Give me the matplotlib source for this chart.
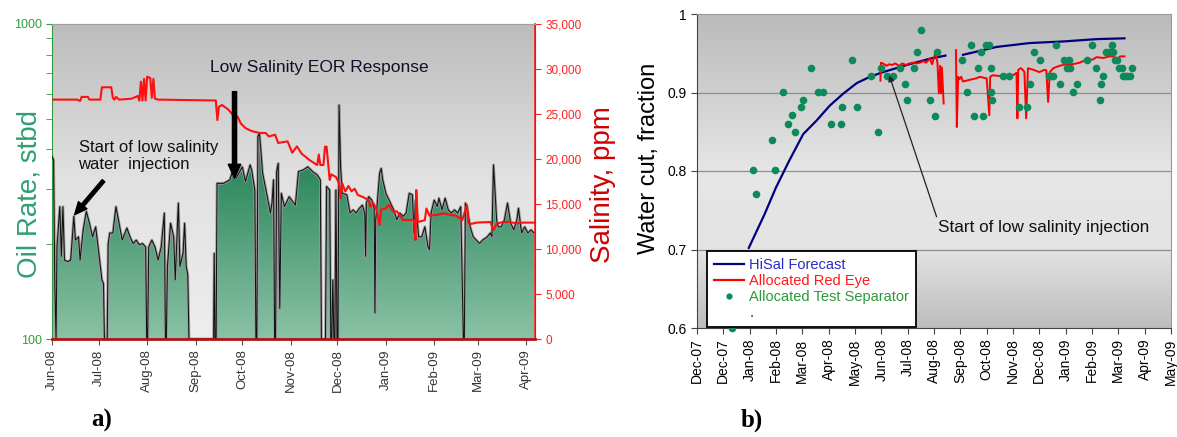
import numpy as np
import pandas as pd
import matplotlib
matplotlib.use('Agg')
import matplotlib.pyplot as plt
from matplotlib.colors import LinearSegmentedColormap
from matplotlib.lines import Line2D
from matplotlib.ticker import NullFormatter

plt.rcParams['font.family'] = ['Liberation Sans', 'DejaVu Sans']

# ---------------- panel a) : days since 1-Jun-2008 ----------------
oil_day = [0, 1, 1.8, 2.6, 3.2, 5, 6, 7, 8, 10, 12, 14, 15, 17, 18, 20, 22, 24, 26, 28,
           30, 32, 33, 33.6, 35.4, 36, 37, 39, 41, 43, 45, 48, 50, 52, 54, 56, 58, 60, 60.7, 61.3,
           62, 64, 66, 68, 70, 72, 72.7, 73.3, 74, 76, 78, 79, 81, 82, 84, 85, 86, 87, 87.8, 103.6,
           104, 104.5, 105.2, 105.8, 106.3, 110, 114, 116, 118, 122, 124, 127, 128, 130, 130.7, 131.3, 132, 133, 135, 138,
           140, 141, 142, 142.7, 143.3, 144, 145, 146, 147, 149, 152, 156, 158, 161, 164, 167, 170, 172, 172.7, 175.3,
           176, 178, 178.7, 179.3, 180, 180.7, 181.3, 182, 182.7, 183.3, 184, 185, 186, 189, 191, 193, 195, 197, 199, 200.5,
           201, 201.5, 203, 205, 206.5, 207, 207.5, 208, 210, 211, 212, 214, 217, 219, 221, 223, 225, 227, 229, 231,
           232, 233, 235, 237, 239, 241, 242, 243, 245, 247, 248, 250, 252, 254, 256, 258, 260, 262, 263.7, 264.3,
           265, 266, 268, 270, 272, 274, 276, 279, 281, 282, 283, 285, 286, 288, 290, 292, 294, 296, 298, 299,
           301, 303, 305, 307, 309]
oil_rate = [380, 370, 150, 100, 196, 263, 183, 263, 178, 176, 178, 245, 206, 211, 178, 222, 254, 233, 211, 227,
            187, 154, 150, 100, 100, 200, 217, 217, 263, 233, 206, 225, 211, 201, 206, 199, 201, 196, 100, 100,
            196, 206, 196, 178, 196, 251, 100, 100, 170, 233, 211, 154, 270, 170, 187, 233, 170, 160, 100, 100,
            187, 100, 100, 312, 312, 312, 320, 344, 324, 352, 316, 357, 344, 297, 100, 100, 440, 450, 336, 283,
            251, 270, 320, 100, 100, 340, 361, 125, 290, 263, 283, 266, 340, 344, 352, 340, 332, 320, 100, 100,
            305, 297, 100, 100, 154, 100, 100, 297, 100, 100, 553, 352, 290, 287, 251, 257, 251, 260, 266, 250,
            183, 270, 283, 276, 260, 121, 240, 251, 336, 348, 320, 290, 270, 257, 239, 251, 245, 251, 290, 287,
            217, 276, 211, 211, 227, 196, 192, 251, 276, 263, 280, 257, 280, 257, 251, 257, 251, 263, 100, 100,
            270, 263, 227, 211, 206, 201, 206, 211, 217, 211, 357, 239, 227, 227, 239, 270, 233, 222, 239, 260,
            217, 227, 217, 222, 217]

sal_day = [0, 16, 18, 19, 23, 24, 31, 32, 38, 39, 40, 41, 43, 51, 55, 56, 57, 58, 59, 60,
           61, 63, 64, 65, 66, 68, 105, 106, 107, 109, 113, 116, 119, 121, 124, 128, 133, 137, 139, 143,
           145, 151, 154, 157, 160, 165, 170, 171, 172, 174, 175, 176, 178, 179, 182, 184, 185, 186, 188, 190,
           192, 194, 196, 199, 203, 204, 206, 208, 210, 211, 214, 216, 219, 221, 223, 225, 232, 233, 233.5, 234.5,
           237, 239, 240, 242, 247, 251, 255, 259, 263, 266, 267, 269, 272, 281, 283, 285, 289, 293, 298, 302, 309]
sal_ppm = [26600, 26600, 26450, 26900, 26900, 26600, 26600, 27970, 27970, 26800, 26600, 26900, 26600, 26700, 27000, 26500, 28590, 26500, 28900, 26500,
           29140, 29000, 26800, 28900, 26700, 26600, 26500, 24330, 25800, 26000, 25500, 24890, 24700, 23950, 23440, 23100, 22890, 22890, 22500, 22700,
           21780, 21960, 20700, 21400, 20600, 19890, 19330, 20500, 19330, 19330, 21370, 21370, 17670, 18300, 18000, 17300, 15630, 17300, 16400, 17000,
           16400, 16700, 16000, 15800, 15440, 14700, 15100, 14400, 12670, 14400, 14500, 14900, 14100, 14200, 13700, 13220, 13220, 11000, 16550, 13000,
           13100, 13220, 14500, 13700, 13800, 13960, 13800, 13700, 13220, 14890, 12850, 12800, 12930, 13000, 12110, 12800, 13000, 13000, 12850, 12930, 12930]

left_ticks = ['Jun-08', 'Jul-08', 'Aug-08', 'Sep-08', 'Oct-08', 'Nov-08', 'Dec-08',
              'Jan-09', 'Feb-09', 'Mar-09', 'Apr-09']
sal_ticks = [0, 5000, 10000, 15000, 20000, 25000, 30000, 35000]

# ---------------- panel b) : days since 1-Dec-2007 ----------------
fc_day = [59, 77, 90, 105, 121, 136, 151, 166, 182, 197, 212, 227, 242, 265, 283, np.nan,
          303, 341, 379, 417, 455, 487]
fc_wc = [0.702, 0.745, 0.779, 0.813, 0.847, 0.864, 0.883, 0.898, 0.912, 0.920, 0.926, 0.931,
         0.936, 0.943, 0.947, np.nan, 0.948, 0.958, 0.963, 0.965, 0.968, 0.969]

re_day = [209, 209.5, 212, 216, 219, 222, 226, 230, 234, 238, 242, 246, 250, 254, 258, 261, 265, 268, 270, 272,
          274, 275.5, 277, 278, 279, 281, np.nan,
          295, 296, 297.5, 299, 301, 303, 310, 318, 322, 330, 333, 334, 337, 345, 352, 360, 364, 365, 366, 369,
          371, 373, 375, 377, 383, 390, 396, 398, 400, 402, 406, 413, 421, 428, 436, 444, 451, 455, 463, 470,
          474, 477, 479, 482, 487]
re_wc = [0.915, 0.938, 0.937, 0.934, 0.936, 0.935, 0.937, 0.934, 0.937, 0.935, 0.937, 0.938, 0.937, 0.938, 0.940, 0.938, 0.943, 0.936, 0.945, 0.950,
         0.937, 0.899, 0.934, 0.899, 0.932, 0.886, np.nan,
         0.954, 0.856, 0.920, 0.917, 0.920, 0.914, 0.916, 0.918, 0.920, 0.918, 0.871, 0.920, 0.922, 0.921, 0.920, 0.922, 0.925, 0.867, 0.929, 0.931,
         0.929, 0.926, 0.867, 0.931, 0.929, 0.926, 0.929, 0.928, 0.888, 0.926, 0.931, 0.934, 0.936, 0.936, 0.938, 0.942, 0.942, 0.945, 0.944, 0.946,
         0.946, 0.944, 0.942, 0.946, 0.946]

ts_day = [40, 64, 67, 89, 86, 98, 104, 108, 112, 119, 121, 130, 138, 143, 153, 164, 165, 177, 182, 198,
          206, 210, 217, 223, 231, 237, 239, 247, 251, 255, 266, 271, 273, 302, 308, 312, 315, 320, 324, 326,
          329, 333, 335, 335, 336, 349, 355, 367, 376, 379, 384, 391, 401, 404, 406, 409, 414, 418, 421, 424,
          425, 428, 433, 444, 450, 454, 459, 460, 462, 466, 469, 473, 474, 476, 478, 481, 484, 485, 488, 490,
          493, 496]
ts_wc = [0.600, 0.801, 0.771, 0.801, 0.840, 0.901, 0.860, 0.871, 0.850, 0.881, 0.891, 0.931, 0.901, 0.901, 0.860, 0.860, 0.881, 0.941, 0.881, 0.921,
         0.850, 0.931, 0.921, 0.921, 0.931, 0.911, 0.891, 0.931, 0.951, 0.980, 0.891, 0.870, 0.951, 0.941, 0.901, 0.961, 0.870, 0.931, 0.951, 0.870,
         0.961, 0.961, 0.901, 0.931, 0.890, 0.921, 0.921, 0.881, 0.881, 0.911, 0.951, 0.941, 0.921, 0.921, 0.921, 0.961, 0.911, 0.941, 0.931, 0.941,
         0.931, 0.901, 0.911, 0.941, 0.961, 0.931, 0.890, 0.911, 0.921, 0.951, 0.951, 0.961, 0.951, 0.941, 0.941, 0.931, 0.931, 0.921, 0.921, 0.921,
         0.921, 0.931]

right_ticks = ['Dec-07', 'Dec-07', 'Jan-08', 'Feb-08', 'Mar-08', 'Apr-08', 'May-08', 'Jun-08', 'Jul-08',
               'Aug-08', 'Sep-08', 'Oct-08', 'Nov-08', 'Dec-08', 'Jan-09', 'Feb-09', 'Mar-09', 'Apr-09', 'May-09']
wc_ticks = [0.6, 0.7, 0.8, 0.9, 1.0]
wc_labels = ['0.6', '0.7', '0.8', '0.9', '1']

W, H = 1177, 437
fig = plt.figure(figsize=(W / 100, H / 100), dpi=100)
fig.patch.set_facecolor('white')

# ============ panel a ============
ax = fig.add_axes([52 / W, 98 / H, 483 / W, 315 / H])
ax.set_yscale('log')
grad = np.linspace(0, 1, 256).reshape(-1, 1)
bg_cmap = LinearSegmentedColormap.from_list('bg', ['#ededed', '#e2e2e2', '#bcbcbc'])
ax.imshow(grad, extent=[0, 1, 0, 1], transform=ax.transAxes, aspect='auto',
          cmap=bg_cmap, origin='lower', zorder=0)

poly = ax.fill_between(oil_day, oil_rate, 100, facecolor='none', edgecolor='none')
g_cmap = LinearSegmentedColormap.from_list('g', ['#8ac2a5', '#5ea684', '#2c8a5d', '#23805a'])
gim = ax.imshow(grad, extent=[0, 1, 0, 0.8], transform=ax.transAxes, aspect='auto',
                cmap=g_cmap, origin='lower', zorder=1)
gim.set_clip_path(poly.get_paths()[0], transform=ax.transData)
ax.plot(oil_day, oil_rate, color='#9c9c9c', lw=2.0, zorder=2)
ax.plot(oil_day, oil_rate, color='#111111', lw=0.75, zorder=3)

ax.set_xlim(0, 309.6)
ax.set_ylim(100, 1000)
start_a = pd.Timestamp('2008-06-01')
left_pos = [(pd.to_datetime('01-' + t, format='%d-%b-%y') - start_a).days for t in left_ticks]
ax.set_xticks(left_pos)
ax.set_xticklabels(left_ticks, rotation=90, fontsize=9.5, color='#333333')
ax.set_yticks([100, 1000])
ax.set_yticklabels(['100', '1000'])
ax.set_yticks([200, 300, 400, 500, 600, 700, 800, 900], minor=True)
ax.yaxis.set_minor_formatter(NullFormatter())
ax.tick_params(axis='y', which='both', colors='#2f9e3f', labelsize=9, length=4)
ax.tick_params(axis='x', colors='#555555', labelcolor='#333333', length=4)
ax.spines['left'].set_color('#2f9e3f')
ax.spines['top'].set_color('#a0a0a0')

ax2 = ax.twinx()
ax2.plot(sal_day, sal_ppm, color='#ff1010', lw=1.5, zorder=3)
ax2.set_ylim(0, 35000)
ax2.set_yticks(sal_ticks)
ax2.set_yticklabels([f'{v:,}' for v in sal_ticks])
ax2.tick_params(axis='y', colors='#ff2020', labelsize=8.5, length=4)
ax2.spines['right'].set_color('#ff2020')
ax2.spines['right'].set_linewidth(1.2)
ax2.spines['bottom'].set_color('#b01515')
ax2.spines['bottom'].set_linewidth(2)
ax2.spines['left'].set_visible(False)
ax2.spines['top'].set_color('#a0a0a0')

ax2.text(101, 730, 'Low Salinity EOR Response', transform=ax.transData,
         fontsize=12.5, color='#10102a', va='center', ha='left', zorder=6)
ax2.annotate('', xy=(117, 324), xycoords=ax.transData, xytext=(117, 610), textcoords=ax.transData,
             arrowprops=dict(facecolor='black', edgecolor='black', width=3, headwidth=9,
                             headlength=10, shrink=0), zorder=6)
ax2.text(17, 381, 'Start of low salinity\nwater  injection', transform=ax.transData,
         fontsize=12, color='#111111', va='center', ha='left', linespacing=1.1, zorder=6)
ax2.annotate('', xy=(14.5, 248), xycoords=ax.transData, xytext=(33, 318), textcoords=ax.transData,
             arrowprops=dict(facecolor='black', edgecolor='black', width=2.5, headwidth=8,
                             headlength=9, shrink=0), zorder=6)

fig.text(30 / W, 1 - 194 / H, 'Oil Rate, stbd', rotation=90, color='#2f9f72',
         fontsize=20, ha='center', va='center')
fig.text(603 / W, 1 - 185 / H, 'Salinity, ppm', rotation=90, color='#d10000',
         fontsize=20, ha='center', va='center')
fig.text(102 / W, 1 - 420 / H, 'a)', family='Liberation Serif', fontweight='bold',
         fontsize=18, ha='center', va='center')

# ============ panel b ============
bx = fig.add_axes([697 / W, 109 / H, 474 / W, 314 / H])
b_cmap = LinearSegmentedColormap.from_list(
    'bgb', [(0, '#bdbdbd'), (0.25, '#e3e3e3'), (0.5, '#e6e6e6'), (1, '#bababa')])
bx.imshow(grad, extent=[0, 1, 0, 1], transform=bx.transAxes, aspect='auto',
          cmap=b_cmap, origin='lower', zorder=0)
for v in wc_ticks[1:-1]:
    bx.axhline(v, color='#8e8e8e', lw=0.9, zorder=1)

bx.plot(fc_day, fc_wc, color='#000080', lw=1.6, zorder=3)
bx.plot(re_day, re_wc, color='#ff0000', lw=1.4, zorder=3)
bx.plot(ts_day, ts_wc, 'o', color='#0c8a5a', ms=5.5, mec='none', zorder=4, clip_on=False)

bx.set_xlim(0, 540)
bx.set_ylim(0.6, 1.0)
bx.set_xticks(np.arange(len(right_ticks)) * 30)
bx.set_xticklabels(right_ticks, rotation=90, fontsize=10)
bx.set_yticks(wc_ticks)
bx.set_yticklabels(wc_labels, fontsize=10)
bx.tick_params(length=4, color='#444444')
for s in ['left', 'bottom']:
    bx.spines[s].set_color('#444444')
for s in ['top', 'right']:
    bx.spines[s].set_color('#9a9a9a')

bx.annotate('Start of low salinity injection', xy=(219, 0.922), xytext=(274, 0.7286),
            fontsize=12.3, color='#111111', ha='left', va='center', zorder=6,
            arrowprops=dict(arrowstyle='-|>', color='#222222', lw=0.9, shrinkA=0, shrinkB=0,
                            mutation_scale=9, relpos=(0, 1)))

handles = [Line2D([], [], color='#000080', lw=1.6),
           Line2D([], [], color='#ff0000', lw=1.6),
           Line2D([], [], ls='none', marker='o', ms=4.5, color='#0c8a5a', mec='none'),
           Line2D([], [], ls='none')]
leg = bx.legend(handles, ['HiSal Forecast', 'Allocated Red Eye', 'Allocated Test Separator', '.'],
                loc='lower left', bbox_to_anchor=(0.021, 0.003), borderaxespad=0, fontsize=10.5,
                frameon=True, fancybox=False, framealpha=1, edgecolor='black',
                borderpad=0.45, labelspacing=0.15, handlelength=2.1, handletextpad=0.35)
leg.get_frame().set_linewidth(1.3)
for t, c in zip(leg.get_texts(), ['#2b2bc8', '#ff1a1a', '#2a9a3a', '#222222']):
    t.set_color(c)
leg.set_zorder(5)

fig.text(649 / W, 1 - 158 / H, 'Water cut, fraction', rotation=90, color='black',
         fontsize=17, ha='center', va='center')
fig.text(752 / W, 1 - 420 / H, 'b)', family='Liberation Serif', fontweight='bold',
         fontsize=18, ha='center', va='center')

fig.savefig('out.png', dpi=100)
